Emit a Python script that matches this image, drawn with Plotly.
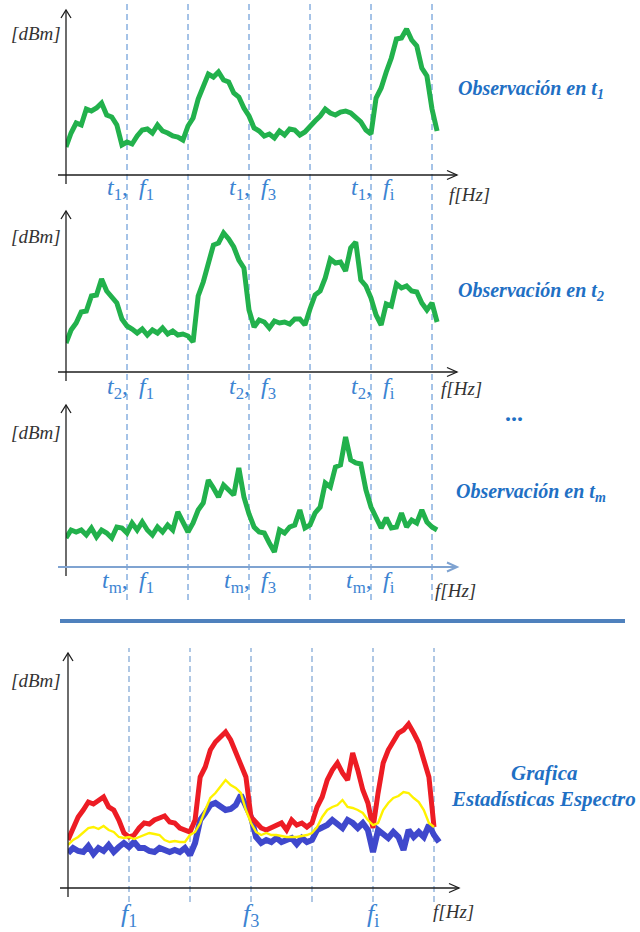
import numpy as np
import plotly.graph_objects as go

W, H = 640, 932

# ---- spectrum samples (12 frequency bins per channel band) ----
BINS_PER_BAND = 12

obs_t1 = [28, 42, 52, 50, 66, 64, 67, 72, 60, 58,
          50, 30, 33, 31, 39, 45, 46, 42, 50, 44,
          42, 39, 38, 35, 49, 57, 76, 90, 101, 98,
          103, 95, 93, 82, 78, 67, 59, 47, 44, 39,
          41, 37, 44, 40, 46, 45, 40, 43, 49, 54,
          59, 66, 62, 60, 63, 64, 62, 57, 53, 45,
          41, 77, 87, 103, 117, 136, 137, 146, 135, 129,
          107, 99, 66, 44]

obs_t2 = [29, 42, 49, 60, 61, 76, 77, 93, 81, 74,
          69, 53, 46, 43, 39, 43, 37, 42, 39, 44,
          38, 41, 37, 38, 36, 30, 76, 90, 110, 127,
          129, 139, 133, 125, 112, 104, 62, 45, 52, 50,
          44, 51, 49, 50, 48, 53, 53, 47, 63, 77,
          81, 94, 113, 109, 110, 101, 124, 130, 92, 86,
          74, 57, 47, 68, 66, 88, 84, 86, 81, 80,
          69, 62, 69, 50]

obs_tm = [29, 37, 35, 37, 32, 39, 30, 37, 34, 29,
          40, 39, 34, 44, 37, 45, 37, 32, 40, 35,
          42, 37, 55, 44, 35, 44, 57, 64, 87, 79,
          70, 82, 77, 72, 99, 70, 53, 40, 35, 34,
          24, 15, 37, 34, 40, 42, 57, 39, 42, 54,
          60, 84, 80, 100, 102, 130, 107, 104, 103, 77,
          60, 50, 39, 49, 39, 40, 54, 40, 47, 44,
          57, 45, 40, 37]

stat_max = [48, 61, 71, 78, 86, 84, 88, 91, 81, 78,
            68, 55, 51, 53, 60, 65, 64, 68, 70, 72,
            66, 65, 60, 58, 56, 68, 111, 121, 138, 146,
            151, 156, 148, 135, 125, 111, 71, 65, 60, 58,
            60, 63, 65, 58, 68, 63, 65, 61, 65, 81,
            91, 108, 118, 125, 115, 108, 135, 118, 98, 85,
            60, 95, 125, 138, 146, 155, 158, 164, 155, 145,
            128, 111, 61]

stat_mean = [43, 48, 51, 56, 60, 61, 59, 62, 58, 56,
             51, 50, 51, 49, 51, 53, 55, 54, 53, 48,
             46, 47, 46, 46, 53, 56, 65, 78, 90, 95,
             101, 108, 103, 100, 95, 78, 65, 56, 53, 55,
             53, 53, 52, 51, 51, 51, 52, 53, 55, 61,
             71, 78, 81, 83, 88, 81, 80, 78, 75, 68,
             63, 65, 78, 85, 90, 92, 96, 95, 90, 86,
             78, 65, 61]

stat_min = [35, 40, 37, 36, 42, 34, 40, 37, 43, 36,
            41, 45, 41, 46, 40, 40, 37, 36, 40, 38,
            36, 38, 36, 40, 33, 45, 68, 75, 83, 85,
            81, 78, 79, 83, 93, 80, 71, 51, 45, 48,
            46, 50, 46, 48, 50, 44, 50, 46, 48, 58,
            60, 63, 68, 63, 60, 68, 65, 60, 65, 58,
            36, 58, 53, 50, 56, 51, 38, 58, 51, 56,
            51, 63, 53, 46]

band_edges = [1, 2, 3, 4, 5, 6]
band_marks = [1, 3, 5]
band_names = ["1", "3", "i"]
obs_times = ["1", "2", "m"]

GREEN = "#22b14c"
RED = "#ed1c24"
YELLOW = "#fff200"
BLUE = "#3f48cc"
LABEL_BLUE = "#3c84d2"
TITLE_BLUE = "#1f70c4"
DASH_BLUE = "#4a86cf"
DASH_LIGHT = "#7aa2d2"
AXIS = "#1e1e1e"
SERIF = "Liberation Serif"

X_SPAN = 6.4  # axis length in band units
BAND_PX = 61


def px(x, y):
    return x / W, 1 - y / H


def bins(values):
    return np.arange(len(values)) / BINS_PER_BAND


# panel geometry: left edge of axis, baseline, top of arrow
panels = [
    dict(left=66, base=175, top=10),
    dict(left=66, base=372, top=211),
    dict(left=66, base=567, top=405),
    dict(left=68, base=888, top=653),
]

fig = go.Figure()
layout = dict(width=W, height=H, margin=dict(l=0, r=0, t=0, b=0),
              paper_bgcolor="white", plot_bgcolor="rgba(0,0,0,0)",
              showlegend=False)

for i, p in enumerate(panels, start=1):
    sfx = "" if i == 1 else str(i)
    x0 = p["left"] / W
    x1 = (p["left"] + X_SPAN * BAND_PX) / W
    y0 = 1 - p["base"] / H
    y1 = 1 - p["top"] / H
    hidden = dict(showgrid=False, zeroline=False, showline=False,
                  showticklabels=False, ticks="", fixedrange=True)
    layout["xaxis" + sfx] = dict(domain=[x0, x1], range=[0, X_SPAN],
                                 anchor="y" + sfx, **hidden)
    layout["yaxis" + sfx] = dict(domain=[y0, y1],
                                 range=[0, p["base"] - p["top"]],
                                 anchor="x" + sfx, **hidden)

fig.update_layout(**layout)

# observation traces
for i, vals in enumerate([obs_t1, obs_t2, obs_tm], start=1):
    sfx = "" if i == 1 else str(i)
    fig.add_trace(go.Scatter(x=bins(vals), y=vals, mode="lines",
                             line=dict(color=GREEN, width=5),
                             xaxis="x" + sfx, yaxis="y" + sfx,
                             hoverinfo="skip"))

# statistics traces
for vals, col, w in [(stat_min, BLUE, 6), (stat_max, RED, 5),
                     (stat_mean, YELLOW, 2.4)]:
    fig.add_trace(go.Scatter(x=bins(vals), y=vals, mode="lines",
                             line=dict(color=col, width=w),
                             xaxis="x4", yaxis="y4", hoverinfo="skip"))

shapes = []

# channel separators
for e in band_edges:
    shapes.append(dict(type="line", xref="x", yref="paper", x0=e, x1=e,
                       y0=1 - 600 / H, y1=1.0, layer="below",
                       line=dict(color=DASH_BLUE, width=1, dash="6px,4px")))
    shapes.append(dict(type="line", xref="x4", yref="paper", x0=e, x1=e,
                       y0=1 - 902 / H, y1=1 - 648 / H, layer="below",
                       line=dict(color=DASH_LIGHT, width=1.2, dash="6px,4px")))


def seg(xa, ya, xb, yb, color, width):
    a = px(xa, ya)
    b = px(xb, yb)
    shapes.append(dict(type="line", xref="paper", yref="paper",
                       x0=a[0], y0=a[1], x1=b[0], y1=b[1],
                       line=dict(color=color, width=width)))


def head(points, color, width):
    pts = [px(x, y) for x, y in points]
    path = "M{},{} L{},{} L{},{}".format(*[c for pt in pts for c in pt])
    shapes.append(dict(type="path", xref="paper", yref="paper", path=path,
                       line=dict(color=color, width=width)))


for i, p in enumerate(panels, start=1):
    L, B, T = p["left"], p["base"], p["top"]
    tip = L + 391
    xcol = "#7fa3d1" if i == 3 else AXIS
    xw = 2 if i == 3 else 1.3
    seg(L, B + 9, L, T, AXIS, 1.3)
    head([(L - 5, T + 8), (L, T), (L + 5, T + 8)], AXIS, 1.3)
    seg(L - 8, B, tip, B, xcol, xw)
    head([(tip - 10, B - 4.5), (tip, B), (tip - 10, B + 4.5)], xcol, xw)

# blue divider between the observations and the statistics
seg(60, 621, 625, 621, "#4f81bd", 4)

fig.update_layout(shapes=shapes)

ann = []


def text(x, y, s, size, color, xanchor="center", xref="paper", xshift=0):
    if xref == "paper":
        x = x / W
    ann.append(dict(x=x, y=1 - y / H, xref=xref, yref="paper", text=s,
                    showarrow=False, xanchor=xanchor, yanchor="middle",
                    xshift=xshift,
                    font=dict(family=SERIF, size=size, color=color)))


unit_y = [34, 237, 432, 680]
for (p, uy) in zip(panels, unit_y):
    text(36, uy, "<i>[dBm]</i>", 19, "#333333")

label_y = [189, 388, 582]
hz_pos = [(469, 195), (461, 388), (455, 590)]
title_y = [90, 291, 492]
for i, (t, ly) in enumerate(zip(obs_times, label_y), start=1):
    xr = "x" if i == 1 else "x" + str(i)
    for m, b in zip(band_marks, band_names):
        text(m, ly, "<i>t</i><sub>%s</sub>," % t, 24, LABEL_BLUE,
             xanchor="right", xref=xr, xshift=3)
        text(m, ly, "<i>f</i><sub>%s</sub>" % b, 24, LABEL_BLUE,
             xanchor="left", xref=xr, xshift=10)
    hx, hy = hz_pos[i - 1]
    text(hx, hy, "<i>f[Hz]</i>", 19, "#333333")
    text(531, title_y[i - 1],
         "<b><i>Observación en t<sub>%s</sub></i></b>" % t, 20, TITLE_BLUE)

text(514, 413, "<b>...</b>", 24, TITLE_BLUE)

for m, b in zip(band_marks, band_names):
    text(m, 915, "<i>f</i><sub>%s</sub>" % b, 26, LABEL_BLUE, xref="x4")
text(453, 911, "<i>f[Hz]</i>", 19, "#333333")
text(544, 773, "<b><i>Grafica</i></b>", 21, TITLE_BLUE)
text(543, 799, "<b><i>Estadísticas Espectro</i></b>", 21, TITLE_BLUE)

fig.update_layout(annotations=ann)
fig.write_html("out.html")
